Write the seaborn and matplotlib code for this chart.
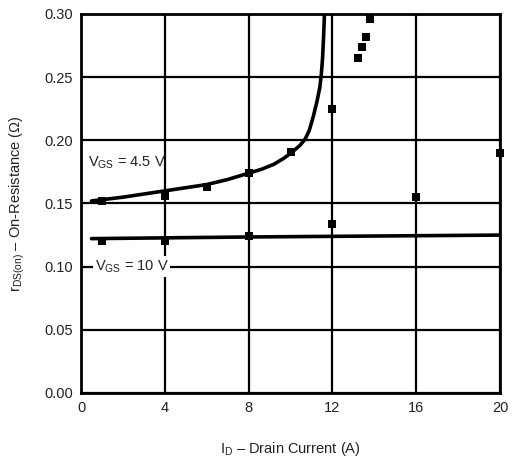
import matplotlib
matplotlib.use("Agg")
import matplotlib.pyplot as plt
import seaborn as sns
import pandas as pd

sns.set_style("white")
plt.rcParams['font.family'] = ['Liberation Sans', 'DejaVu Sans']
plt.rcParams['mathtext.fontset'] = 'custom'
plt.rcParams['mathtext.rm'] = 'Liberation Sans'
plt.rcParams['mathtext.it'] = 'Liberation Sans'

# Curves
curve45_x = [0.5, 2, 4, 6, 7, 8, 8.6, 9.2, 9.7, 10.1, 10.45, 10.7, 10.9, 11.09, 11.28, 11.4, 11.47, 11.53, 11.58, 11.62]
curve45_y = [0.152, 0.155, 0.160, 0.165, 0.169, 0.174, 0.177, 0.181, 0.186, 0.191, 0.196, 0.201, 0.208, 0.219, 0.232, 0.242, 0.252, 0.265, 0.282, 0.300]
curve10_x = [0.5, 8, 20]
curve10_y = [0.1222, 0.1235, 0.125]

# Measured points (squares)
pts45_x = [1, 4, 6, 8, 10, 12, 13.2, 13.4, 13.6, 13.8]
pts45_y = [0.152, 0.156, 0.163, 0.174, 0.191, 0.225, 0.265, 0.274, 0.282, 0.296]
pts10_x = [1, 4, 8, 12, 16, 20]
pts10_y = [0.120, 0.120, 0.124, 0.134, 0.155, 0.190]

x_ticks = [0, 4, 8, 12, 16, 20]
y_ticks = [0.00, 0.05, 0.10, 0.15, 0.20, 0.25, 0.30]
y_tick_labels = ["0.00", "0.05", "0.10", "0.15", "0.20", "0.25", "0.30"]

fig = plt.figure(figsize=(5.19, 4.59), dpi=100)
ax = fig.add_axes([81/519, 1-393/459, 419/519, 379/459])

sns.lineplot(x=curve45_x, y=curve45_y, ax=ax, color="black", lw=2.6, sort=False)
sns.lineplot(x=curve10_x, y=curve10_y, ax=ax, color="black", lw=2.6, sort=False)
pts = pd.DataFrame({"x": pts45_x + pts10_x, "y": pts45_y + pts10_y})
sns.scatterplot(data=pts, x="x", y="y", ax=ax, marker="s", s=40, color="black",
                edgecolor="black", linewidth=0, zorder=5, clip_on=False)

ax.set_xlim(0, 20)
ax.set_ylim(0, 0.30)
ax.set_xticks(x_ticks)
ax.set_xticklabels([str(t) for t in x_ticks])
ax.set_yticks(y_ticks)
ax.set_yticklabels(y_tick_labels)
ax.grid(True, color="black", lw=1.6)
ax.set_axisbelow(True)
for sp in ax.spines.values():
    sp.set_color("black")
    sp.set_linewidth(2.0)
ax.tick_params(axis="both", length=0, labelsize=10.5, colors="#222222", pad=6)

ax.set_xlabel(r"I$_{\mathregular{D}}$ – Drain Current (A)", fontsize=10.5, labelpad=18, color="#222222")
ax.set_ylabel(r"r$_{\mathregular{DS(on)}}$ – On-Resistance (Ω)", fontsize=10.5, labelpad=12, color="#222222")

ax.text(0.35, 0.182, r"V$_{\mathregular{GS}}$ = 4.5 V", fontsize=10.5, va="center", ha="left",
        color="#222222", zorder=6)
ax.text(0.65, 0.100, r"V$_{\mathregular{GS}}$ = 10 V", fontsize=10.5, va="center", ha="left",
        color="#222222", zorder=6,
        bbox=dict(facecolor="white", edgecolor="none", pad=1.5))

fig.savefig("out.png", dpi=100)
